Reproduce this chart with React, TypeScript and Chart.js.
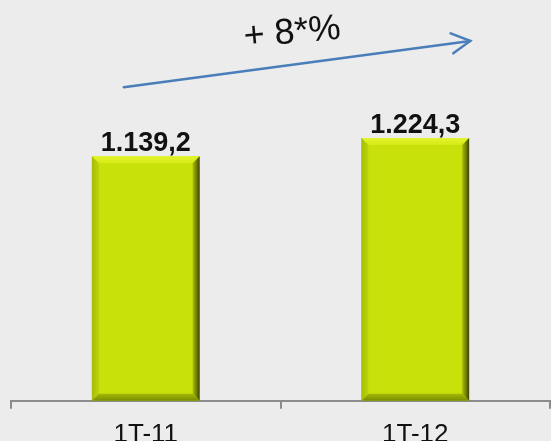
import React, { useEffect, useRef } from "react";
import { Chart, registerables } from "chart.js";

Chart.register(...registerables);

const categories = ["1T-11", "1T-12"];
const values = [1139.2, 1224.3];
const valueLabels = ["1.139,2", "1.224,3"];
const growthLabel = "+ 8*%";

const bevelPlugin = {
  id: "bevel",
  afterDatasetsDraw(chart: any) {
    const ctx = chart.ctx;
    const meta = chart.getDatasetMeta(0);
    const b = 7;
    meta.data.forEach((bar: any) => {
      const { x, y, base, width } = bar.getProps(["x", "y", "base", "width"], true);
      const l = x - width / 2;
      const r = x + width / 2;
      const t = y;
      const bt = base;
      ctx.save();
      let g = ctx.createLinearGradient(0, t, 0, t + b);
      g.addColorStop(0, "#e4f530");
      g.addColorStop(1, "#d4ea14");
      ctx.fillStyle = g;
      ctx.beginPath();
      ctx.moveTo(l, t); ctx.lineTo(r, t); ctx.lineTo(r - b, t + b); ctx.lineTo(l + b, t + b); ctx.closePath();
      ctx.fill();
      g = ctx.createLinearGradient(l, 0, l + b, 0);
      g.addColorStop(0, "#a6bc06");
      g.addColorStop(1, "#bcd40a");
      ctx.fillStyle = g;
      ctx.beginPath();
      ctx.moveTo(l, t); ctx.lineTo(l + b, t + b); ctx.lineTo(l + b, bt - b); ctx.lineTo(l, bt); ctx.closePath();
      ctx.fill();
      g = ctx.createLinearGradient(r - b, 0, r, 0);
      g.addColorStop(0, "#a8be06");
      g.addColorStop(0.6, "#6c7a02");
      g.addColorStop(1, "#3a4000");
      ctx.fillStyle = g;
      ctx.beginPath();
      ctx.moveTo(r, t); ctx.lineTo(r, bt); ctx.lineTo(r - b, bt - b); ctx.lineTo(r - b, t + b); ctx.closePath();
      ctx.fill();
      g = ctx.createLinearGradient(0, bt - b, 0, bt);
      g.addColorStop(0, "#a2b806");
      g.addColorStop(1, "#7c8c02");
      ctx.fillStyle = g;
      ctx.beginPath();
      ctx.moveTo(l, bt); ctx.lineTo(l + b, bt - b); ctx.lineTo(r - b, bt - b); ctx.lineTo(r, bt); ctx.closePath();
      ctx.fill();
      ctx.restore();
    });
    ctx.save();
    ctx.font = "bold 27px Arial, 'Liberation Sans', sans-serif";
    ctx.fillStyle = "#111";
    ctx.textAlign = "center";
    ctx.textBaseline = "alphabetic";
    meta.data.forEach((bar: any, i: number) => {
      ctx.fillText(valueLabels[i], bar.x, bar.y - 5);
    });
    ctx.restore();
    const b0 = meta.data[0];
    const b1 = meta.data[1];
    const x0 = b0.x - 22;
    const y0 = b0.y - 69;
    const x1 = b1.x + 55;
    const y1 = b1.y - 97;
    ctx.save();
    ctx.strokeStyle = "#4a7ebb";
    ctx.lineWidth = 2.5;
    ctx.lineCap = "round";
    ctx.beginPath();
    ctx.moveTo(x0, y0);
    ctx.lineTo(x1, y1);
    ctx.stroke();
    const ang = Math.atan2(y1 - y0, x1 - x0);
    const hl = 21;
    ctx.beginPath();
    ctx.moveTo(x1 + hl * Math.cos(ang + Math.PI - 0.5), y1 + hl * Math.sin(ang + Math.PI - 0.5));
    ctx.lineTo(x1, y1);
    ctx.lineTo(x1 + hl * Math.cos(ang + Math.PI + 0.5), y1 + hl * Math.sin(ang + Math.PI + 0.5));
    ctx.stroke();
    ctx.restore();
    ctx.save();
    const tx = (x0 + x1) / 2 - 4;
    const ty = (y0 + y1) / 2 - 21;
    ctx.translate(tx, ty);
    ctx.rotate(-0.09);
    ctx.font = "36px 'Liberation Sans', Arial, sans-serif";
    ctx.fillStyle = "#111";
    ctx.textAlign = "center";
    ctx.textBaseline = "alphabetic";
    ctx.fillText(growthLabel, 0, 0);
    ctx.restore();
  },
};

export default function App() {
  const ref = useRef<HTMLCanvasElement | null>(null);
  useEffect(() => {
    if (!ref.current) return;
    const chart = new Chart(ref.current, {
      type: "bar",
      data: {
        labels: categories,
        datasets: [
          {
            data: values,
            backgroundColor: "#c9e10b",
            borderWidth: 0,
            barPercentage: 0.8,
            categoryPercentage: 0.5,
          },
        ],
      },
      options: {
        animation: false,
        responsive: true,
        maintainAspectRatio: false,
        layout: { padding: { top: 10, left: 11, right: 1, bottom: 0 } },
        plugins: { legend: { display: false }, tooltip: { enabled: false } },
        scales: {
          x: {
            offset: true,
            grid: {
              display: true,
              offset: true,
              drawOnChartArea: false,
              drawTicks: true,
              tickLength: 8,
              color: "#8c8c8c",
              lineWidth: 2,
            },
            border: { display: true, color: "#8c8c8c", width: 2 },
            ticks: {
              color: "#111",
              font: { family: "Arial, 'Liberation Sans', sans-serif", size: 26 },
              padding: 10,
            },
          },
          y: {
            display: false,
            min: 0,
            max: 1820,
          },
        },
      },
      plugins: [bevelPlugin],
    });
    return () => chart.destroy();
  }, []);
  return (
    <div style={{ position: "fixed", left: 0, top: 0, width: 551, height: 441, overflow: "hidden", background: "#ececec" }}>
      <div style={{ position: "relative", width: 551, height: 460 }}>
        <canvas ref={ref} />
      </div>
    </div>
  );
}
